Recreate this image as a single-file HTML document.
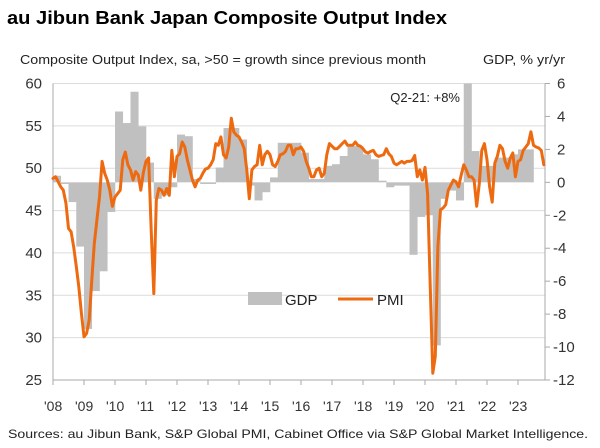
<!DOCTYPE html>
<html><head><meta charset="utf-8">
<style>
html,body{margin:0;padding:0;background:#fff;}
svg{display:block;font-family:"Liberation Sans",sans-serif;}
</style></head>
<body>
<svg id="chart" width="600" height="448" viewBox="0 0 600 448" xmlns="http://www.w3.org/2000/svg">
  <text x="7" y="24" font-size="18" font-weight="bold" fill="#000" textLength="440" lengthAdjust="spacingAndGlyphs">au Jibun Bank Japan Composite Output Index</text>
  <text x="20" y="64" font-size="13" fill="#222" textLength="406" lengthAdjust="spacingAndGlyphs">Composite Output Index, sa, &gt;50 = growth since previous month</text>
  <text x="483" y="64" font-size="13" fill="#222" textLength="82" lengthAdjust="spacingAndGlyphs">GDP, % yr/yr</text>
  <g id="grid"></g>
  <g id="bars"></g>
  <g id="axes"></g>
  <g id="line"></g>
  <text x="460" y="102" font-size="13" fill="#222" text-anchor="end">Q2-21: +8%</text>
  <g>
    <rect x="248" y="292" width="34" height="13" fill="#c0c0c0"/>
    <text x="285" y="305" font-size="15" fill="#222">GDP</text>
    <line x1="338" y1="299" x2="373" y2="299" stroke="#ee6a10" stroke-width="3"/>
    <text x="377" y="305" font-size="15" fill="#222">PMI</text>
  </g>
  <text x="8" y="438" font-size="12" fill="#222" textLength="580" lengthAdjust="spacingAndGlyphs">Sources: au Jibun Bank, S&amp;P Global PMI, Cabinet Office via S&amp;P Global Market Intelligence.</text>
</svg>
<script>
const leftTicks = [25,30,35,40,45,50,55,60];
const rightTicks = [-12,-10,-8,-6,-4,-2,0,2,4,6];
const yearLabels = ["'08","'09","'10","'11","'12","'13","'14","'15","'16","'17","'18","'19","'20","'21","'22","'23"];
// GDP % yr/yr quarterly from 2008Q1
const gdpValues = [
 0.4,-0.1,-1.2,-3.9,
 -8.9,-6.6,-5.4,-1.8,
 4.3,3.6,5.5,3.4,
 1.2,-1.0,-0.8,-0.3,
 2.9,2.8,0.2,-0.1,
 -0.1,0.9,3.3,3.3,
 2.6,-0.2,-1.1,-0.6,
 0.3,2.4,2.4,2.4,
 1.8,0.2,0.2,1.0,
 1.1,1.6,2.2,2.2,
 1.7,1.4,0.1,-0.3,
 -0.2,-0.2,-4.4,-2.1,
 -2.0,-9.9,-1.0,-0.5,
 -1.1,8.0,1.9,1.0,
 1.0,1.5,1.5,1.7,
 2.0,2.0];
// PMI composite output monthly from Jan 2008
const pmiValues = [
 48.8,49.0,48.4,47.8,47.4,45.9,42.9,42.5,40.7,38.4,36.0,32.9,
 30.1,30.5,32.1,36.8,41.1,43.9,46.6,50.8,49.4,48.6,47.4,45.5,
 46.6,47.0,47.4,51.0,51.9,50.4,49.8,48.6,49.6,49.2,47.4,49.5,
 50.8,51.2,42.7,35.2,46.2,47.6,47.4,46.8,47.6,46.8,52.1,49.0,
 51.4,51.7,53.1,52.5,51.0,49.8,48.6,47.8,48.6,48.8,49.4,49.9,
 50.0,50.4,51.0,52.9,52.7,53.7,51.6,51.2,52.5,55.9,54.3,53.9,
 53.7,53.1,52.3,49.8,46.4,49.8,50.2,50.4,52.7,50.4,51.6,52.0,
 51.6,50.4,50.2,50.8,51.6,51.7,52.0,52.7,52.7,51.6,52.3,52.3,
 52.5,52.0,50.8,50.0,49.0,49.0,49.8,50.0,49.0,49.4,51.6,52.9,
 52.6,52.3,52.3,52.6,52.9,53.2,52.7,52.7,52.7,53.1,52.7,52.6,
 52.3,51.9,51.8,52.0,52.1,51.6,51.4,51.5,51.6,52.3,51.7,51.4,
 50.6,50.4,50.6,50.8,50.6,50.8,50.8,50.9,51.5,49.0,49.8,48.6,
 50.1,47.0,36.2,25.8,27.8,40.8,45.1,45.3,45.7,47.4,48.0,48.6,
 48.4,47.8,49.2,50.4,49.8,49.0,49.0,48.6,45.5,48.2,52.1,52.9,
 51.0,47.8,46.0,50.6,51.4,52.7,52.3,50.8,50.0,51.2,51.8,49.0,
 50.8,51.0,52.1,52.5,52.9,54.3,52.7,52.5,52.4,52.1,50.4];

const NS='http://www.w3.org/2000/svg';
const X0=53, X1=545, YT=83.5, YB=380;
const yearW=31;
function xMonth(i){return X0+i*yearW/12;}
function xQuarter(q){return X0+q*yearW/4;}
function yLeft(v){return YT+(60-v)*(YB-YT)/35;}
function yRight(v){return YT+(6-v)*(YB-YT)/18;}
function mk(tag,attrs,parent){const e=document.createElementNS(NS,tag);for(const k in attrs)e.setAttribute(k,attrs[k]);parent.appendChild(e);return e;}

const grid=document.getElementById('grid');
const axes=document.getElementById('axes');
const bars=document.getElementById('bars');
const lineG=document.getElementById('line');

leftTicks.forEach(v=>{
  const y=yLeft(v);
  if(v>25){
    const g=mk('line',{x1:X0,x2:X1,y1:y,y2:y,stroke:'#dcdcdc','stroke-width':1},grid);
    
    
  }
  const t=mk('text',{x:42,y:y+5,'font-size':15,'text-anchor':'end',fill:'#333'},axes);
  t.textContent=v;
  
  
});
rightTicks.forEach(v=>{
  const y=yRight(v);
  const tk=mk('line',{x1:X1,x2:X1+5,y1:y,y2:y,stroke:'#aaa','stroke-width':1},axes);
  
  
  const t=mk('text',{x:(v<0?553:557),y:y+5,'font-size':15,fill:'#333'},axes);
  t.textContent=v;
  
  
});

// GDP bars
const y0=yRight(0);
gdpValues.forEach((v,q)=>{
  const xa=xQuarter(q), xb=xQuarter(q+1);
  let yv=Math.max(YT,yRight(v));
  const r=mk('rect',{x:xa,width:xb-xa+0.3,y:Math.min(yv,y0),height:Math.abs(yv-y0),fill:'#c0c0c0'},bars);
  
  
});

// axes lines
const la=mk('line',{x1:X0,x2:X0,y1:YT,y2:YB,stroke:'#aaa','stroke-width':1},axes);


const ra=mk('line',{x1:X1,x2:X1,y1:YT,y2:YB,stroke:'#aaa','stroke-width':1},axes);


const ba=mk('line',{x1:X0,x2:X1,y1:YB,y2:YB,stroke:'#aaa','stroke-width':1},axes);


yearLabels.forEach((lab,i)=>{
  const x=X0+i*yearW;
  const tk=mk('line',{x1:x,x2:x,y1:YB,y2:YB+5,stroke:'#aaa','stroke-width':1},axes);
  
  
  const t=mk('text',{x:x-9,y:411,'font-size':14,fill:'#333'},axes);
  t.textContent=lab;
  
  
});

// PMI line
const pts=pmiValues.map((v,i)=>xMonth(i).toFixed(1)+','+yLeft(v).toFixed(1)).join(' ');
const pl=mk('polyline',{points:pts,fill:'none',stroke:'#ee6a10','stroke-width':3,'stroke-linejoin':'round','stroke-linecap':'round'},lineG);


</script>
</body></html>
